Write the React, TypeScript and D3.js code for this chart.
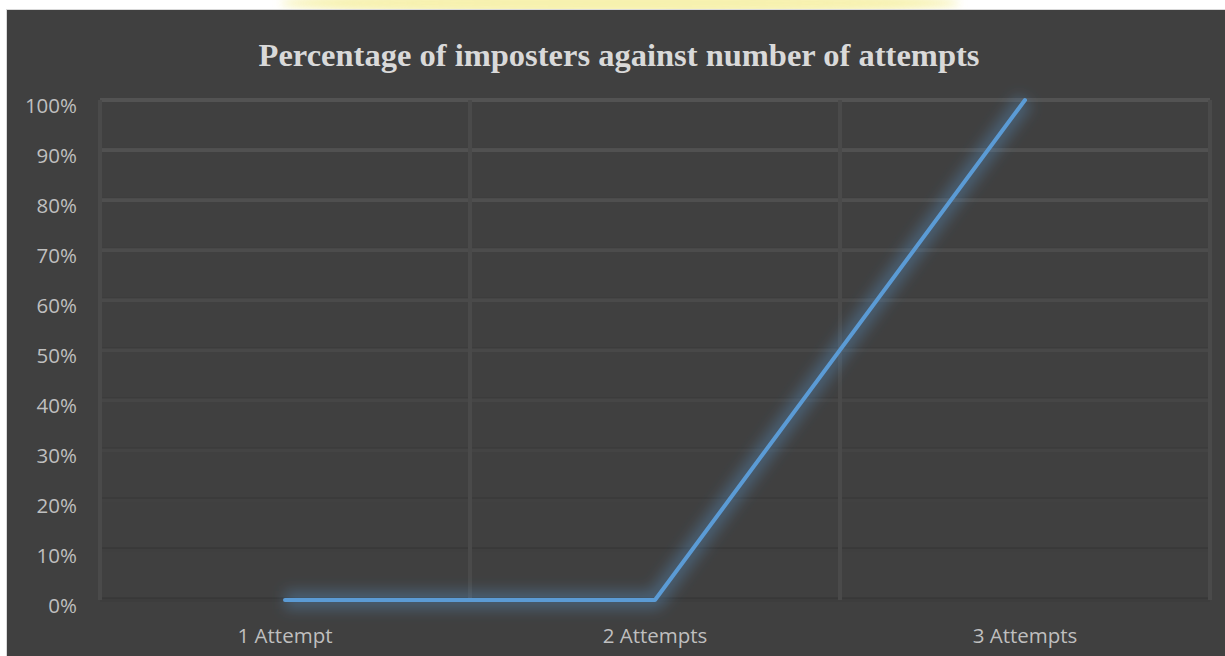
import * as d3 from 'd3'

const title = 'Percentage of imposters against number of attempts'
const categories = ['1 Attempt', '2 Attempts', '3 Attempts']
const imposterShare = [0, 0, 1]
const yTicks = [0, 0.1, 0.2, 0.3, 0.4, 0.5, 0.6, 0.7, 0.8, 0.9, 1]

export default function App() {
  const width = 1225
  const height = 656
  const panel = { left: 7, top: 10 }
  const margin = { top: 100, right: 15, bottom: 56, left: 100 }

  const x = d3
    .scaleBand<string>()
    .domain(categories)
    .range([margin.left, width - margin.right])
    .padding(0)
  const y = d3
    .scaleLinear()
    .domain([0, 1])
    .range([height - margin.bottom, margin.top])

  const points = categories.map((c, i) => ({ c, v: imposterShare[i] }))
  const line = d3
    .line<{ c: string; v: number }>()
    .x(d => (x(d.c) ?? 0) + x.bandwidth() / 2)
    .y(d => y(d.v))

  const gridColor = d3.interpolateRgb('#535353', '#3d3d3d')
  const edgeOpacity = d3.scaleLinear().domain([1, 0]).range([0, 0.9])
  const fmt = d3.format('.0%')
  const path = line(points) ?? ''

  return (
    <div style={{ position: 'fixed', left: 0, top: 0 }}>
      <svg width={width} height={height} style={{ display: 'block' }}>
        <defs>
          <filter id="glow" x="-20%" y="-20%" width="140%" height="140%">
            <feGaussianBlur stdDeviation="7" />
          </filter>
          <filter id="wash" x="-20%" y="-200%" width="140%" height="500%">
            <feGaussianBlur stdDeviation="5" />
          </filter>
        </defs>

        <rect x={0} y={0} width={width} height={height} fill="#ffffff" />
        <ellipse cx={620} cy={3} rx={340} ry={12} fill="#f5efa0" opacity={0.85} filter="url(#wash)" />
        <rect
          x={panel.left - 1}
          y={panel.top - 1}
          width={width - panel.left + 2}
          height={height - panel.top + 2}
          fill="#d9d9d9"
        />
        <rect
          x={panel.left}
          y={panel.top}
          width={width - panel.left}
          height={height - panel.top}
          fill="#404040"
        />

        <text
          x={(panel.left + width) / 2 + 3}
          y={66}
          textAnchor="middle"
          fontFamily="'Liberation Serif', 'Times New Roman', serif"
          fontWeight="bold"
          fontSize={32.5}
          fill="#d9d9d9"
        >
          {title}
        </text>

        {yTicks.map(t => {
          const yy = y(t)
          return (
            <g key={`grid-${t}`}>
              <line
                x1={margin.left}
                x2={width - margin.right}
                y1={yy}
                y2={yy}
                stroke={gridColor(1 - t)}
                strokeWidth={4}
              />
              <line
                x1={margin.left}
                x2={width - margin.right}
                y1={yy - 2}
                y2={yy - 2}
                stroke="#333333"
                strokeOpacity={edgeOpacity(t)}
                strokeWidth={1}
              />
              <text
                x={77}
                y={yy + 6}
                dy="0.35em"
                textAnchor="end"
                fontFamily="'Open Sans', sans-serif"
                fontSize={20.5}
                fill="#bfbfbf"
              >
                {fmt(t)}
              </text>
            </g>
          )
        })}

        {[...categories.map(c => x(c) ?? 0), width - margin.right].map(xx => (
          <line
            key={`v-${xx}`}
            x1={xx}
            x2={xx}
            y1={y(1)}
            y2={y(0)}
            stroke="#4a4a4a"
            strokeWidth={4}
          />
        ))}

        {categories.map(c => (
          <text
            key={c}
            x={(x(c) ?? 0) + x.bandwidth() / 2}
            y={643}
            textAnchor="middle"
            fontFamily="'Open Sans', sans-serif"
            fontSize={20.5}
            fill="#bfbfbf"
          >
            {c}
          </text>
        ))}

        <path
          d={path}
          fill="none"
          stroke="#5b9bd5"
          strokeOpacity={0.35}
          strokeWidth={18}
          strokeLinejoin="round"
          filter="url(#glow)"
        />
        <path
          d={path}
          fill="none"
          stroke="#5b9bd5"
          strokeWidth={4}
          strokeLinecap="round"
          strokeLinejoin="round"
        />
      </svg>
    </div>
  )
}
